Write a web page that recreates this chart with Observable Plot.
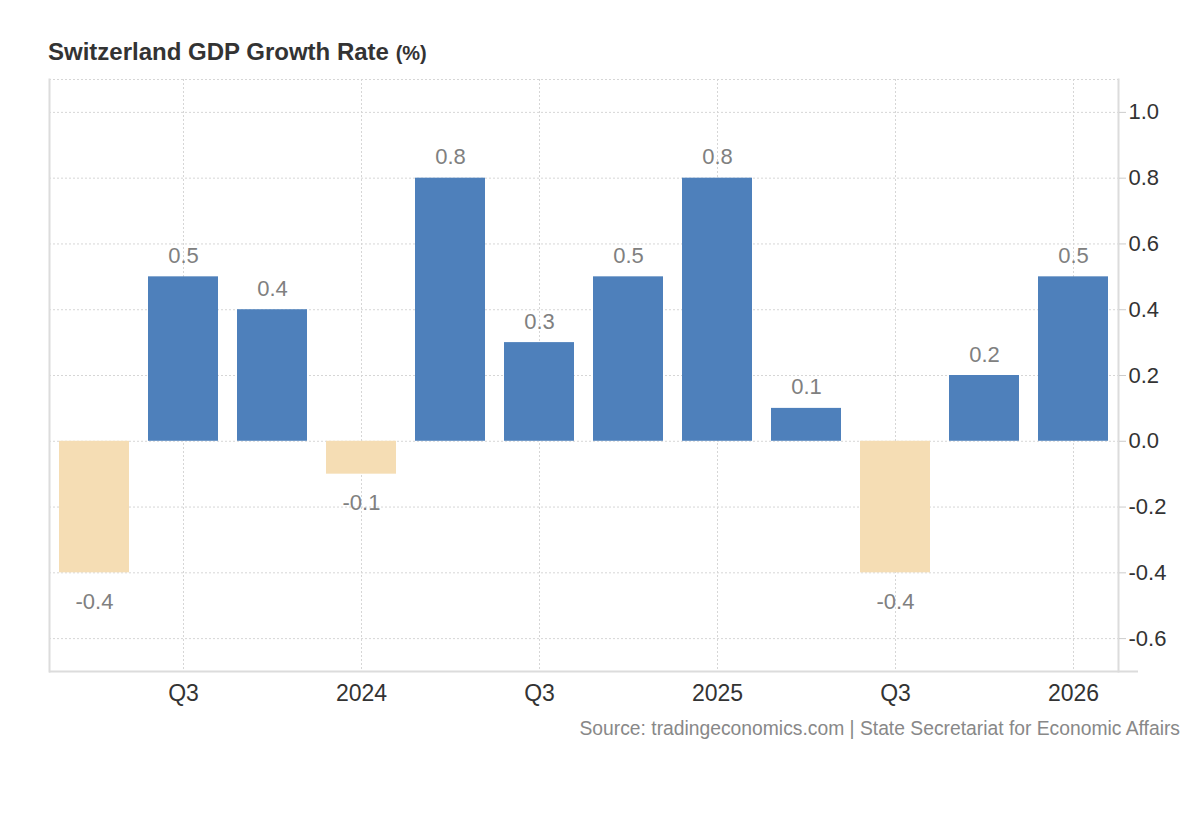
<!DOCTYPE html>
<html>
<head>
<meta charset="utf-8">
<script src="https://cdn.jsdelivr.net/npm/d3@7"></script>
<script src="https://cdn.jsdelivr.net/npm/@observablehq/plot@0.6"></script>
<style>
  html, body { margin: 0; padding: 0; background: #fff; }
  body { width: 1200px; height: 820px; position: relative; font-family: "Helvetica Neue", Helvetica, Arial, "Liberation Sans", sans-serif; }
  #title { position: absolute; left: 48px; top: 40px; font-size: 24px; font-weight: bold; color: #333; line-height: 1; white-space: nowrap; }
  #title span { font-size: 20px; }
  #chart { position: absolute; left: 0; top: 70px; }
  #source { position: absolute; right: 20px; top: 719px; font-size: 19.3px; color: #888; line-height: 1; white-space: nowrap; }
</style>
</head>
<body>
<div id="title">Switzerland GDP Growth Rate <span>(%)</span></div>
<div id="chart"></div>
<div id="source">Source: tradingeconomics.com | State Secretariat for Economic Affairs</div>
<script>
const periods = ["2023 Q2","2023 Q3","2023 Q4","2024 Q1","2024 Q2","2024 Q3","2024 Q4","2025 Q1","2025 Q2","2025 Q3","2025 Q4","2026 Q1"];
const values = [-0.4, 0.5, 0.4, -0.1, 0.8, 0.3, 0.5, 0.8, 0.1, -0.4, 0.2, 0.5];
const axisTicks = ["2023 Q3","2024 Q1","2024 Q3","2025 Q1","2025 Q3","2026 Q1"];
const axisTickLabels = ["Q3","2024","Q3","2025","Q3","2026"];
const yTicks = [-0.6, -0.4, -0.2, 0.0, 0.2, 0.4, 0.6, 0.8, 1.0];
const yDomain = [-0.7, 1.1];

const data = periods.map((p, i) => ({period: p, value: values[i]}));
const pos = data.filter(d => d.value >= 0);
const neg = data.filter(d => d.value < 0);
const tickLabelOf = new Map(axisTicks.map((t, i) => [t, axisTickLabels[i]]));

const blue = "#4e80bb";
const beige = "#f5ddb4";
const grid = "#d6d6d6";
const axisLine = "#dcdcdc";

const chart = Plot.plot({
  width: 1200,
  height: 650,
  marginTop: 9,
  marginBottom: 49,
  marginLeft: 49,
  marginRight: 82,
  style: {fontFamily: '"Helvetica Neue", Helvetica, Arial, "Liberation Sans", sans-serif', background: "transparent"},
  x: {type: "band", domain: periods, paddingInner: 0.21, paddingOuter: 0.11},
  y: {domain: yDomain},
  marks: [
    Plot.ruleY([...yTicks, yDomain[1]], {stroke: grid, strokeDasharray: "2,2", strokeWidth: 1}),
    Plot.ruleX(axisTicks, {x: d => d, stroke: grid, strokeDasharray: "2,2", strokeWidth: 1}),
    Plot.barY(pos, {x: "period", y: "value", fill: blue}),
    Plot.barY(neg, {x: "period", y: "value", fill: beige}),
    Plot.text(pos, {x: "period", y: "value", text: d => d.value.toFixed(1), dy: -21, fill: "#808080", fontSize: 22}),
    Plot.text(neg, {x: "period", y: "value", text: d => d.value.toFixed(1), dy: 29, fill: "#808080", fontSize: 22}),
    Plot.frame({anchor: "left", stroke: axisLine, strokeWidth: 2}),
    Plot.frame({anchor: "right", stroke: axisLine, strokeWidth: 2}),
    Plot.ruleY([yDomain[0]], {stroke: axisLine, strokeWidth: 2, insetRight: -20}),
    Plot.axisY({anchor: "right", ticks: yTicks, tickFormat: d => d.toFixed(1), tickSize: 7, tickPadding: 3, stroke: "#cccccc", fill: "#333", fontSize: 22, label: null}),
    Plot.axisX({ticks: axisTicks, tickFormat: d => tickLabelOf.get(d), tickSize: 0, tickPadding: 13, fill: "#333", fontSize: 23, label: null})
  ]
});
document.getElementById("chart").appendChild(chart);
</script>
</body>
</html>
